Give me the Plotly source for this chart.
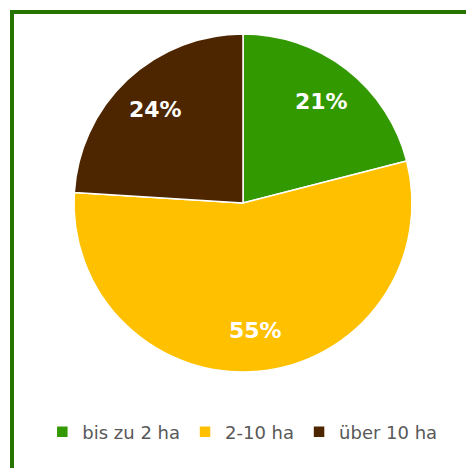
import math
import plotly.graph_objects as go

categories = ["bis zu 2 ha", "2-10 ha", "über 10 ha"]
values = [21, 55, 24]
colors = ["#339900", "#FFC000", "#4D2600"]

W, H = 466, 468
cx, cy, R = 243, 203, 169
label_r = 0.76

fig = go.Figure(go.Pie(
    labels=categories,
    values=values,
    sort=False,
    direction="clockwise",
    rotation=0,
    marker=dict(colors=colors, line=dict(color="white", width=1.5)),
    textinfo="none",
    domain=dict(x=[(cx - R) / W, (cx + R) / W], y=[1 - (cy + R) / H, 1 - (cy - R) / H]),
    hoverinfo="label+percent",
))

# percentage labels placed on each slice's bisector
total = sum(values)
annotations = []
cum = 0
for v in values:
    mid = (cum + v / 2) / total * 2 * math.pi
    cum += v
    px = cx + label_r * R * math.sin(mid)
    py = cy - label_r * R * math.cos(mid)
    annotations.append(dict(
        x=px / W, y=1 - py / H, xref="paper", yref="paper",
        text=f"{round(v / total * 100)}%", showarrow=False,
        font=dict(family="DejaVu Sans", size=22, color="white", weight="bold"),
        xanchor="center", yanchor="middle",
    ))

fig.update_layout(
    width=W, height=H,
    margin=dict(l=0, r=0, t=0, b=0),
    paper_bgcolor="white",
    showlegend=True,
    legend=dict(orientation="h", x=0.52, xanchor="center", y=1 - 432 / H, yanchor="middle",
                font=dict(family="DejaVu Sans", size=18, color="#595959"),
                itemwidth=30, tracegroupgap=0),
    annotations=annotations,
    shapes=[dict(type="rect", xref="paper", yref="paper",
                 x0=12 / W, x1=1.1, y0=-0.1, y1=1 - 12 / H,
                 line=dict(color="#267300", width=4), fillcolor="rgba(0,0,0,0)")],
)

fig.write_html("out.html", config={"displayModeBar": False},
               post_script="document.body.style.margin='0px';")
